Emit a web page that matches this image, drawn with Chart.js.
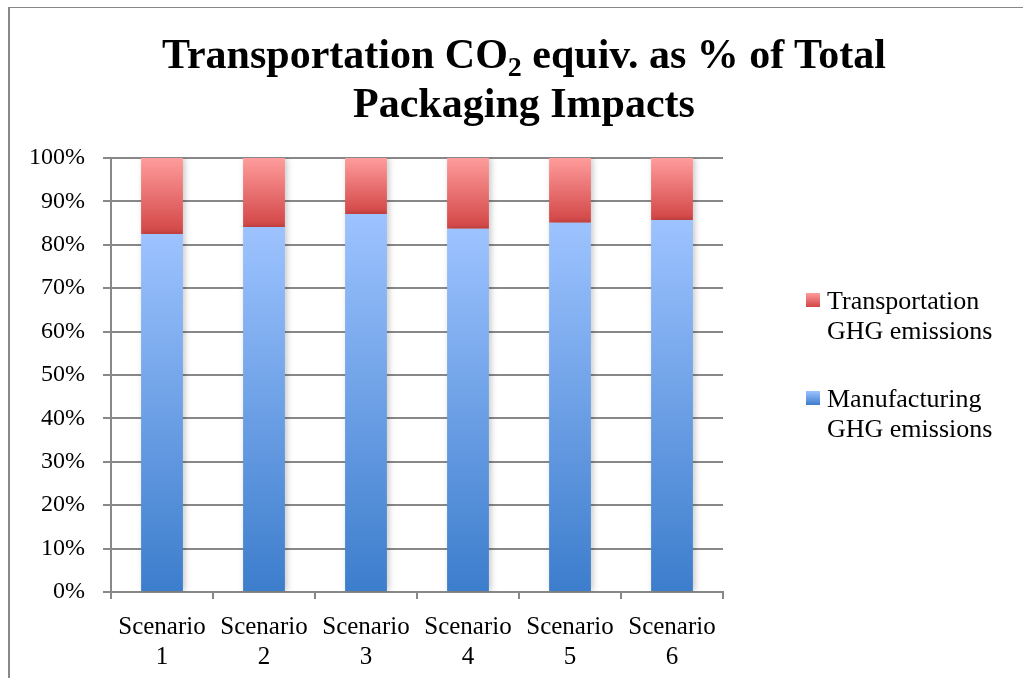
<!DOCTYPE html>
<html>
<head>
<meta charset="utf-8">
<script src="https://cdn.jsdelivr.net/npm/chart.js@4"></script>
<style>
  body { margin: 0; background: #fff; }
  #wrap { position: relative; width: 1023px; height: 678px; overflow: hidden; }
  #frame { position: absolute; left: 8px; top: 7px; right: -10px; bottom: -10px;
           border-left: 2px solid #888; border-top: 1px solid #888; }
  #title { position: absolute; left: 124px; width: 800px; top: 30px; text-align: center;
           font: bold 42px "Liberation Serif", "Times New Roman", serif; line-height: 49px; color: #000; }
  #title sub { font-size: 28px; line-height: 0; vertical-align: -8px; }
  .leg { position: absolute; left: 806px; font: 26px "Liberation Serif", "Times New Roman", serif;
         line-height: 30px; color: #000; }
  .leg .box { position: absolute; left: 0; top: 7px; width: 14px; height: 14px; }
  .leg .txt { margin-left: 21px; }
  canvas { position: absolute; left: 0; top: 0; }
</style>
</head>
<body>
<div id="wrap">
  <div id="frame"></div>
  <canvas id="chart" width="1023" height="678"></canvas>
  <div id="title">Transportation CO<sub>2</sub> equiv. as % of Total<br>Packaging Impacts</div>
  <div class="leg" style="top:286px"><span class="box" style="background:linear-gradient(#ff9c9c,#d24545)"></span><div class="txt">Transportation<br>GHG emissions</div></div>
  <div class="leg" style="top:384px"><span class="box" style="background:linear-gradient(#9dc3ff,#3c7dcc)"></span><div class="txt">Manufacturing<br>GHG emissions</div></div>
</div>
<script>
// values (% of total)
const categories = [['Scenario', '1'], ['Scenario', '2'], ['Scenario', '3'], ['Scenario', '4'], ['Scenario', '5'], ['Scenario', '6']];
const manufacturing = [82.5, 84.1, 87.1, 83.7, 85.1, 85.7];
const transportation = [17.5, 15.9, 12.9, 16.3, 14.9, 14.3];
const yTicks = [0, 10, 20, 30, 40, 50, 60, 70, 80, 90, 100];

const serif = '"Liberation Serif", "Times New Roman", serif';

// vertical gradient over one bar segment
function segmentFill(topCol, botCol) {
  return (c) => {
    const chart = c.chart;
    if (!chart.chartArea || c.type !== 'data' || !chart.scales.y) return botCol;
    const y = chart.scales.y;
    const i = c.dataIndex;
    const lo = c.datasetIndex === 0 ? 0 : manufacturing[i];
    const hi = lo + c.raw;
    const g = chart.ctx.createLinearGradient(0, y.getPixelForValue(hi), 0, y.getPixelForValue(lo));
    g.addColorStop(0, topCol);
    g.addColorStop(1, botCol);
    return g;
  };
}

// soft shadow behind the bars
const barShadow = {
  id: 'barShadow',
  beforeDatasetsDraw(chart) {
    const ctx = chart.ctx;
    ctx.save();
    ctx.shadowColor = 'rgba(0,0,0,0.22)';
    ctx.shadowBlur = 6;
    ctx.shadowOffsetX = 2;
    ctx.shadowOffsetY = 0;
  },
  afterDatasetsDraw(chart) {
    chart.ctx.restore();
  }
};

new Chart(document.getElementById('chart'), {
  type: 'bar',
  data: {
    labels: categories,
    datasets: [
      {
        label: 'Manufacturing GHG emissions',
        data: manufacturing,
        backgroundColor: segmentFill('#9dc3ff', '#3c7dcc'),
        barPercentage: 0.41,
        categoryPercentage: 1
      },
      {
        label: 'Transportation GHG emissions',
        data: transportation,
        backgroundColor: segmentFill('#ff9c9c', '#d24545'),
        barPercentage: 0.41,
        categoryPercentage: 1
      }
    ]
  },
  options: {
    responsive: false,
    animation: false,
    layout: { padding: { top: 158, right: 300, left: 0, bottom: 0 } },
    plugins: {
      legend: { display: false },
      title: { display: false },
      tooltip: { enabled: false }
    },
    scales: {
      x: {
        stacked: true,
        afterFit(scale) { scale.height = 86; },
        grid: { drawOnChartArea: false, drawTicks: true, tickLength: 7, color: '#888', lineWidth: 2, offset: true },
        border: { display: true, color: '#888', width: 2 },
        ticks: { color: '#000', font: { family: serif, size: 25, lineHeight: 1.2 }, padding: 13, maxRotation: 0 }
      },
      y: {
        stacked: true,
        min: 0,
        max: 100,
        afterFit(scale) { scale.width = 111; },
        afterBuildTicks(scale) { scale.ticks = yTicks.map(v => ({ value: v })); },
        grid: { color: '#888', lineWidth: 2, tickLength: 8 },
        border: { display: true, color: '#888', width: 2 },
        ticks: { color: '#000', font: { family: serif, size: 24 }, padding: 18, callback: v => v + '%' }
      }
    }
  },
  plugins: [barShadow]
});
</script>
</body>
</html>
